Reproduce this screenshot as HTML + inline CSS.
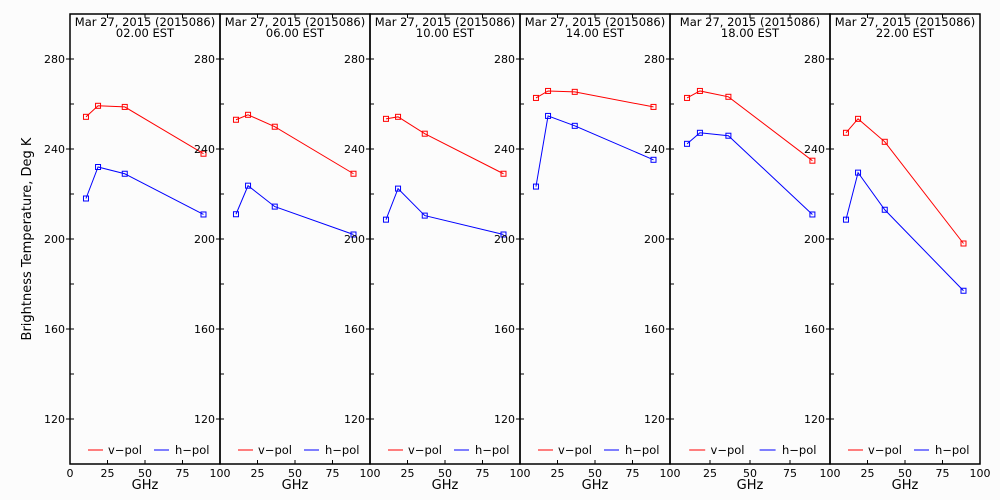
<!DOCTYPE html>
<html><head><meta charset="utf-8"><style>
html,body{margin:0;padding:0;background:#fcfcfc;}
svg{display:block;font-family:"DejaVu Sans","Liberation Sans",sans-serif;}
</style></head><body>
<svg id="chart" width="1000" height="500" viewBox="0 0 1000 500">
<rect x="0" y="0" width="1000" height="500" fill="#fcfcfc"/>
<text x="31" y="239" font-size="13" text-anchor="middle" transform="rotate(-90 31 239)">Brightness Temperature, Deg K</text>
</svg>
<script>
const times = ["02.00 EST","06.00 EST","10.00 EST","14.00 EST","18.00 EST","22.00 EST"];
const freqs = [10.65, 18.7, 36.5, 89];
const vpol = [
  [254.3, 259.2, 258.7, 237.9],
  [253.0, 255.2, 249.9, 229.0],
  [253.4, 254.3, 246.8, 229.0],
  [262.7, 265.8, 265.4, 258.7],
  [262.7, 265.8, 263.2, 234.8],
  [247.2, 253.4, 243.2, 198.0]
];
const hpol = [
  [218.0, 232.0, 229.0, 210.9],
  [211.0, 223.7, 214.4, 202.0],
  [208.6, 222.4, 210.4, 202.0],
  [223.3, 254.7, 250.3, 235.2],
  [242.3, 247.2, 245.9, 210.9],
  [208.6, 229.5, 213.0, 177.0]
];
const yTicks = [120, 160, 200, 240, 280];
const xTicks = [0, 25, 50, 75, 100];
const edges = [70, 220, 370, 520, 670, 830, 980];
const plotTop = 14, plotBottom = 464, yMin = 100, yMax = 300;
const svg = document.getElementById('chart');
const NS = "http://www.w3.org/2000/svg";
function mk(tag, attrs, parent) {
  const e = document.createElementNS(NS, tag);
  for (const k in attrs) e.setAttribute(k, attrs[k]);
  (parent || svg).appendChild(e);
  return e;
}
function yS(v) { return plotBottom - (v - yMin) / (yMax - yMin) * (plotBottom - plotTop); }
for (let p = 0; p < 6; p++) {
  const x0 = edges[p], x1 = edges[p + 1], w = x1 - x0;
  const xS = f => x0 + f / 100 * w;
  const g = mk('g', {});
  
  
  const frame = mk('rect', {x: x0, y: plotTop, width: w, height: plotBottom - plotTop, fill: 'none', stroke: '#000', 'stroke-width': 1.5}, g);
  
  
  for (let v = yMin + 20; v < yMax; v += 20) {
    const y = yS(v);
    const major = yTicks.includes(v);
    mk('line', {x1: x0 - (major ? 4 : 0), x2: x0 + 4, y1: y, y2: y, stroke: '#000', 'stroke-width': 1}, g);
    if (major) {
      const t = mk('text', {x: x0 - 5, y: y + 4, 'font-size': 11, 'text-anchor': 'end'}, g);
      t.textContent = v;
      
      
    }
  }
  xTicks.forEach((f, i) => {
    const x = xS(f);
    mk('line', {x1: x, x2: x, y1: plotBottom, y2: plotBottom - 4, stroke: '#000', 'stroke-width': 1}, g);
    mk('line', {x1: x, x2: x, y1: plotTop, y2: plotTop + 4, stroke: '#000', 'stroke-width': 1}, g);
    if (i === 0 && p > 0) return;
    const t = mk('text', {x: x, y: plotBottom + 13, 'font-size': 11, 'text-anchor': 'middle'}, g);
    t.textContent = f;
    
    
  });
  const xl = mk('text', {x: x0 + w / 2, y: 489, 'font-size': 13, 'text-anchor': 'middle'}, g);
  xl.textContent = 'GHz';
  
  
  const t1 = mk('text', {x: x0 + w / 2, y: 26, 'font-size': 11.5, 'text-anchor': 'middle'}, g);
  t1.textContent = 'Mar 27, 2015 (2015086)';
  
  
  const t2 = mk('text', {x: x0 + w / 2, y: 37, 'font-size': 11.5, 'text-anchor': 'middle'}, g);
  t2.textContent = times[p];
  
  
  [[vpol[p], '#ff0000', 'v-pol'], [hpol[p], '#0000ff', 'h-pol']].forEach(([vals, col, nm]) => {
    const pts = vals.map((v, i) => xS(freqs[i]) + ',' + yS(v)).join(' ');
    const pl = mk('polyline', {points: pts, fill: 'none', stroke: col, 'stroke-width': 1}, g);
    
    
    vals.forEach((v, i) => {
      const r = mk('rect', {x: xS(freqs[i]) - 2.5, y: yS(v) - 2.5, width: 5, height: 5, fill: 'none', stroke: col, 'stroke-width': 1}, g);
      
      
    });
  });
  const ly = 450;
  const sc = w / 150;
  const lg = mk('g', {}, g);
  
  
  mk('line', {x1: x0 + 18 * sc, x2: x0 + 33 * sc, y1: ly, y2: ly, stroke: '#ff0000', 'stroke-width': 1}, lg);
  const lt1 = mk('text', {x: x0 + 38 * sc, y: ly + 4, 'font-size': 11.5}, lg);
  lt1.textContent = 'v\u2212pol';
  
  
  mk('line', {x1: x0 + 84 * sc, x2: x0 + 99 * sc, y1: ly, y2: ly, stroke: '#0000ff', 'stroke-width': 1}, lg);
  const lt2 = mk('text', {x: x0 + 105 * sc, y: ly + 4, 'font-size': 11.5}, lg);
  lt2.textContent = 'h\u2212pol';
  
  
}
</script>
</body></html>
